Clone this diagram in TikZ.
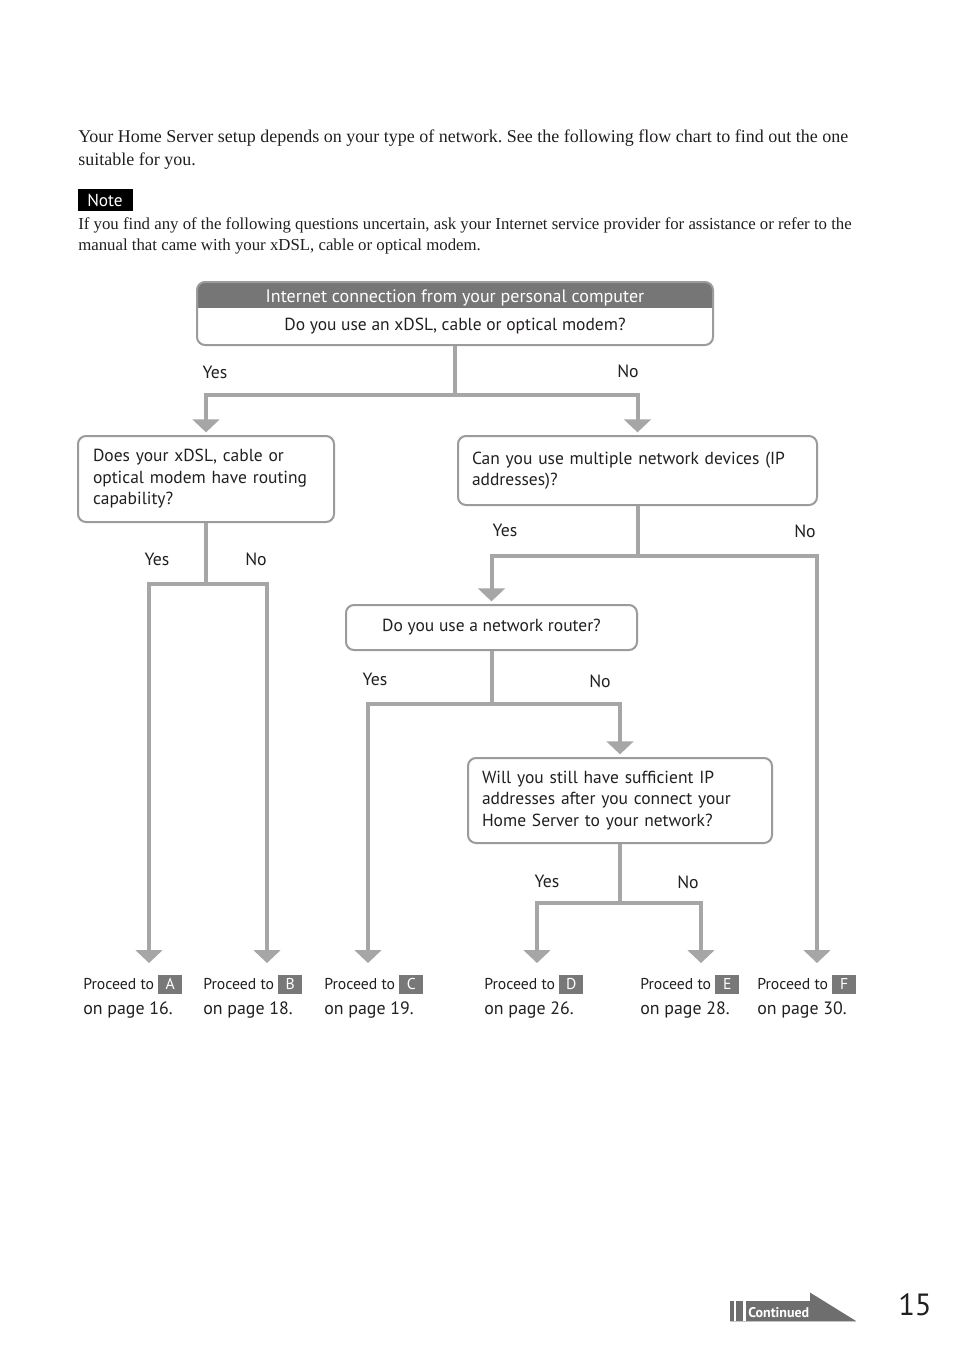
\documentclass[tikz,border=0pt]{standalone}
\usepackage{fontspec}
\setmainfont{Liberation Serif}
\newfontfamily\sansf{PT Sans}
\usetikzlibrary{arrows.meta}
\definecolor{lineg}{HTML}{A6A6A6}
\definecolor{boxg}{HTML}{9B9B9B}
\definecolor{hdrg}{HTML}{767676}
\definecolor{lettg}{HTML}{787878}
\definecolor{txt}{HTML}{231F20}
\definecolor{footg}{HTML}{6E6E6E}
\definecolor{footl}{HTML}{C4C4C4}
\newcommand\lbx[1]{{\setlength{\fboxsep}{0pt}\colorbox{lettg}{\makebox[18pt]{\rule[-4pt]{0pt}{14.5pt}\textcolor{white}{#1}}}}}
\frenchspacing
\begin{document}
\begin{tikzpicture}[x=0.75pt,y=-0.75pt,
  qbox/.style={draw=boxg, line width=1.5pt, rounded corners=6pt, fill=white, text=txt,
    font=\sansf\fontsize{13.1}{16.1}\selectfont, inner ysep=0pt},
  conn/.style={draw=lineg, line width=3pt},
  arr/.style={conn, -{Triangle[width=20pt,length=9.75pt]}},
  yn/.style={anchor=base, text=txt, font=\sansf\fontsize{13.3}{16}\selectfont, inner sep=0pt},
  pline/.style={anchor=base west, text=txt, font=\sansf\fontsize{11.8}{14}\selectfont, inner sep=0pt},
  oline/.style={anchor=base west, text=txt, font=\sansf\fontsize{13.4}{16}\selectfont, inner sep=0pt},
  serif/.style={anchor=base west, text=txt, inner sep=0pt}
]
\useasboundingbox (0,0) rectangle (954,1354);
\fill[white] (0,0) rectangle (954,1354);

% intro text
\node[serif, font=\fontsize{13.5}{16}\selectfont] (i1) at (78,142) {Your Home Server setup depends on your type of network. See the following flow chart to find out the one};
\node[serif, font=\fontsize{13.5}{16}\selectfont] (i2) at (78,165) {suitable for you.};
\fill[black] (78,189) rectangle (133,211);
\node[text=white, font=\sansf\fontsize{13}{15}\selectfont, inner sep=0pt] (note) at (105,200.5) {Note};
\node[serif, font=\fontsize{12.6}{14}\selectfont] (n1) at (78,229) {If you find any of the following questions uncertain, ask your Internet service provider for assistance or refer to the};
\node[serif, font=\fontsize{12.6}{14}\selectfont] (n2) at (78,250) {manual that came with your xDSL, cable or optical modem.};

% top box
\begin{scope}
  \clip[rounded corners=6pt] (197,282) rectangle (713,345);
  \fill[white] (197,282) rectangle (713,345);
  \fill[hdrg] (197,282) rectangle (713,308);
\end{scope}
\node[draw=boxg, line width=1.5pt, rounded corners=6pt, minimum width=387pt, minimum height=47.25pt, inner sep=0pt] (q1) at (455,313.5) {};
\node[text=white, font=\sansf\fontsize{13.5}{16}\selectfont, inner sep=0pt, anchor=base] (h1) at (455,302) {Internet connection from your personal computer};
\node[text=txt, font=\sansf\fontsize{13.1}{16}\selectfont, inner sep=0pt, anchor=base] (q1t) at (455,330) {Do you use an xDSL, cable or optical modem?};

% question boxes
\node[qbox, minimum width=192pt, minimum height=64.5pt, inner xsep=11.25pt, text width=169.5pt, align=left] (q2) at (206,479)
  {Does your xDSL, cable or\\optical modem have routing\\capability?};
\node[qbox, minimum width=269.25pt, minimum height=51.75pt, inner xsep=10.5pt, text width=248.25pt, align=left] (q3) at (637.5,470.5)
  {Can you use multiple network devices (IP\\addresses)?};
\node[qbox, minimum width=218.25pt, minimum height=33.75pt, align=center] (q4) at (491.5,627.5)
  {Do you use a network router?};
\node[qbox, minimum width=228pt, minimum height=63.75pt, inner xsep=10.5pt, text width=207pt, align=left] (q5) at (620,800.5)
  {Will you still have sufficient IP\\addresses after you connect your\\Home Server to your network?};

% end points
\coordinate (tA) at (149,963);
\coordinate (tB) at (267,963);
\coordinate (tC) at (368,963);
\coordinate (tD) at (537,963);
\coordinate (tE) at (701,963);
\coordinate (tF) at (817,963);

% junctions
\path (q1.south) ++(0,49) coordinate (j1);
\path (q2.south) ++(0,61) coordinate (j2);
\path (q3.south) ++(0,50) coordinate (j3);
\path (q4.south) ++(0,53) coordinate (j4);
\path (q5.south) ++(0,59) coordinate (j5);

% connectors
\draw[conn] (q1.south) -- (j1);
\draw[arr] (j1) -| ([yshift=2pt]q2.north);
\draw[arr] (j1) -| ([yshift=2pt]q3.north);
\draw[conn] (q2.south) -- (j2);
\draw[arr] (j2) -| (tA);
\draw[arr] (j2) -| (tB);
\draw[conn] (q3.south) -- (j3);
\draw[arr] (j3) -| ([yshift=2pt]q4.north);
\draw[arr] (j3) -| (tF);
\draw[conn] (q4.south) -- (j4);
\draw[arr] (j4) -| (tC);
\draw[arr] (j4) -| ([yshift=2pt]q5.north);
\draw[conn] (q5.south) -- (j5);
\draw[arr] (j5) -| (tD);
\draw[arr] (j5) -| (tE);

% yes / no labels
\node[yn] (y1) at (215,378) {Yes};
\node[yn] (n1l) at (628,377) {No};
\node[yn] (y2) at (157,565) {Yes};
\node[yn] (n2l) at (256,565) {No};
\node[yn] (y3) at (505,536) {Yes};
\node[yn] (n3l) at (805,537) {No};
\node[yn] (y4) at (375,685) {Yes};
\node[yn] (n4l) at (600,687) {No};
\node[yn] (y5) at (547,887) {Yes};
\node[yn] (n5l) at (688,888) {No};

% end labels
\node[pline] (pA) at (83,989) {Proceed to \lbx{A}};
\node[oline] (oA) at (83,1014) {on page 16.};
\node[pline] (pB) at (203,989) {Proceed to \lbx{B}};
\node[oline] (oB) at (203,1014) {on page 18.};
\node[pline] (pC) at (324,989) {Proceed to \lbx{C}};
\node[oline] (oC) at (324,1014) {on page 19.};
\node[pline] (pD) at (484,989) {Proceed to \lbx{D}};
\node[oline] (oD) at (484,1014) {on page 26.};
\node[pline] (pE) at (640,989) {Proceed to \lbx{E}};
\node[oline] (oE) at (640,1014) {on page 28.};
\node[pline] (pF) at (757,989) {Proceed to \lbx{F}};
\node[oline] (oF) at (757,1014) {on page 30.};

% footer
\fill[footg] (730,1301) rectangle (734,1321);
\fill[footg] (736,1301) rectangle (743,1321);
\fill[footg] (746,1301) -- (810,1301) -- (810,1292.5) -- (856,1321) -- (746,1321) -- cycle;
\draw[footl, line width=0.75pt] (730,1321.5) -- (856,1321.5);
\node[anchor=base west, text=white, font=\sansf\bfseries\fontsize{10.5}{12}\selectfont, inner sep=0pt] (cont) at (748,1317.5) {Continued};
\node[anchor=base west, text=txt, font=\sansf\fontsize{23}{26}\selectfont, inner sep=0pt] (pg) at (898,1315) {15};
\end{tikzpicture}
\end{document}
